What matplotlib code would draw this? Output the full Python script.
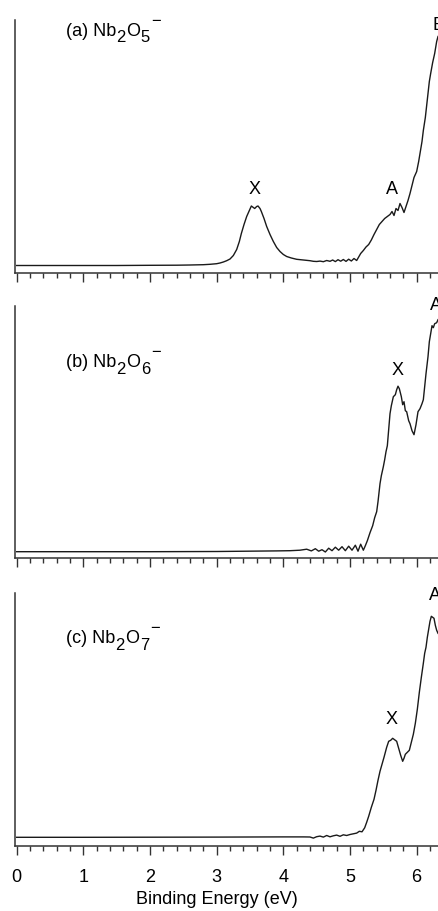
import numpy as np
import matplotlib
matplotlib.use("Agg")
import matplotlib.pyplot as plt
from matplotlib.ticker import MultipleLocator

plt.rcParams['font.family'] = ['Liberation Sans', 'DejaVu Sans']

# (a) Nb2O5-  binding energy (eV) / intensity (arb.)
ea = [0.00, 0.50, 1.00, 1.50, 2.00, 2.40, 2.60, 2.80, 2.90, 3.00,
      3.05, 3.10, 3.15, 3.20, 3.25, 3.30, 3.34, 3.37, 3.41, 3.45,
      3.49, 3.52, 3.55, 3.57, 3.60, 3.62, 3.65, 3.67, 3.71, 3.75,
      3.80, 3.85, 3.90, 3.95, 4.00, 4.05, 4.12, 4.20, 4.30, 4.40,
      4.45, 4.50, 4.55, 4.60, 4.65, 4.70, 4.74, 4.78, 4.82, 4.86,
      4.90, 4.94, 4.98, 5.02, 5.06, 5.10, 5.13, 5.16, 5.20, 5.24,
      5.28, 5.32, 5.36, 5.40, 5.44, 5.48, 5.52, 5.56, 5.60, 5.63,
      5.66, 5.69, 5.72, 5.75, 5.78, 5.81, 5.84, 5.87, 5.90, 5.93,
      5.96, 6.00, 6.03, 6.06, 6.08, 6.10, 6.13, 6.15, 6.17, 6.19,
      6.21, 6.24, 6.27, 6.30, 6.32]
ia = [0, 0, 0, 0, 0.2, 0.3, 0.5, 0.8, 1.2, 1.8,
      2.5, 3.5, 4.8, 6.5, 10, 16, 24, 32, 41, 49,
      55, 59.5, 58, 57, 59, 59.5, 57, 54, 47, 39,
      31, 24, 18, 14, 11, 9, 7.5, 6.2, 5.5, 4.8,
      4.2, 4.0, 4.4, 3.8, 5.0, 4.2, 5.5, 3.9, 5.8, 4.3,
      6.0, 4.1, 6.3, 4.5, 7.0, 5.0, 8.5, 12, 15, 18.5,
      21, 25.5, 31, 36, 41, 44, 47, 49, 51, 54,
      50, 57, 55, 62, 58, 53, 59, 65, 72, 80,
      88, 94, 104, 116, 124, 135, 148, 160, 172, 184,
      192, 203, 212, 224, 229]

# (b) Nb2O6-
eb = [0.00, 1.00, 2.00, 3.00, 3.30, 3.60, 3.90, 4.10, 4.25, 4.35,
      4.42, 4.48, 4.53, 4.58, 4.63, 4.68, 4.73, 4.78, 4.83, 4.88,
      4.93, 4.98, 5.03, 5.08, 5.12, 5.16, 5.20, 5.23, 5.26, 5.30,
      5.34, 5.37, 5.40, 5.42, 5.45, 5.47, 5.50, 5.52, 5.54, 5.56,
      5.58, 5.60, 5.62, 5.65, 5.68, 5.70, 5.72, 5.74, 5.77, 5.79,
      5.81, 5.83, 5.85, 5.88, 5.90, 5.93, 5.96, 5.99, 6.02, 6.05,
      6.08, 6.10, 6.12, 6.14, 6.17, 6.19, 6.21, 6.23, 6.25, 6.27,
      6.30, 6.32]
ib = [0, 0, 0, 0.2, 0.4, 0.6, 0.8, 1.0, 1.5, 2.5,
      0.8, 3.0, 0.5, 2.0, -0.3, 3.5, 1.0, 4.5, 1.5, 5.0,
      1.0, 5.5, 1.5, 6.5, 0.5, 7.5, 1.5, 6.0, 11, 19,
      26, 34, 40, 50, 68, 76, 85, 92, 100, 106,
      122, 138, 146, 155, 157, 162, 165.5, 163, 155, 147,
      150, 141, 140, 131, 128, 121, 117, 127, 140, 143,
      148, 152, 165, 178, 195, 210, 218, 226, 224, 228,
      229, 232]

# (c) Nb2O7-
ec = [0.00, 1.00, 2.00, 3.00, 3.50, 4.00, 4.30, 4.40, 4.45, 4.50,
      4.55, 4.60, 4.65, 4.70, 4.75, 4.80, 4.85, 4.90, 4.95, 5.00,
      5.05, 5.10, 5.14, 5.18, 5.22, 5.25, 5.28, 5.32, 5.36, 5.39,
      5.42, 5.45, 5.48, 5.51, 5.55, 5.58, 5.61, 5.64, 5.67, 5.70,
      5.73, 5.76, 5.79, 5.81, 5.83, 5.86, 5.89, 5.92, 5.95, 5.98,
      6.01, 6.04, 6.07, 6.10, 6.12, 6.14, 6.16, 6.18, 6.20, 6.22,
      6.24, 6.26, 6.28, 6.30, 6.32]
ic = [0, 0, 0.1, 0.2, 0.3, 0.4, 0.4, 0.3, -0.8, 0.6,
      1.2, 0.2, 1.8, 0.5, 1.5, 2.2, 1.0, 2.5, 1.8, 2.8,
      3.5, 4.2, 6.0, 5.5, 9.5, 15, 21, 30, 38, 47,
      57, 66, 73, 80, 90, 96, 97, 99, 97.5, 96,
      89, 82, 76, 79, 83, 85, 87, 95, 103, 114,
      128, 145, 160, 174, 184, 190, 200, 208, 216, 221,
      220, 219, 212, 207, 204]

panel_tags = ["(a)", "(b)", "(c)"]
oxygen = ["5", "6", "7"]
peak_labels = [
    [("X", 3.57, 72, 'center'), ("A", 5.63, 72, 'center'), ("B", 6.24, 236, 'left')],
    [("X", 5.72, 177, 'center'), ("A", 6.20, 242, 'left')],
    [("X", 5.63, 113, 'center'), ("A", 6.18, 237, 'left')],
]

W, H = 438, 911
fig = plt.figure(figsize=(W / 100, H / 100), dpi=100)

# axes boxes in pixels: (bottom, top)
boxes = [(273.3, 20.0), (558.3, 306.0), (845.7, 592.7)]
ylims = [(-7.8, 245.5), (-6.6, 245.7), (-8.4, 244.6)]
name_y = [0.937, 0.757, 0.80]
left = 14.7
fs = 13
fs_sub = 12


def formula(ax, tag, n, ypos):
    # Nb_2 O_n ^- built piece by piece so the subscripts stay large
    t = ax.text(0.121, ypos, tag + " Nb", transform=ax.transAxes,
                fontsize=fs, va='baseline', ha='left')
    t = ax.annotate("2", xy=(1, 0), xycoords=t, xytext=(0.3, -3.9),
                    textcoords='offset points', fontsize=fs_sub, va='bottom')
    t = ax.annotate("O", xy=(1, 0), xycoords=t, xytext=(0.3, 3.9),
                    textcoords='offset points', fontsize=fs, va='bottom')
    t = ax.annotate(n, xy=(1, 0), xycoords=t, xytext=(0.3, -3.9),
                    textcoords='offset points', fontsize=fs_sub, va='bottom')
    ax.annotate("\u2212", xy=(1, 0), xycoords=t, xytext=(0.6, 14.0),
                textcoords='offset points', fontsize=fs_sub, va='baseline')


data = [(ea, ia), (eb, ib), (ec, ic)]
for k in range(3):
    bot, top = boxes[k]
    ax = fig.add_axes([left / W, 1 - bot / H, (W - left) / W, (bot - top) / H])
    x, y = data[k]
    ax.plot(x, y, color='#1a1a1a', lw=1.0)
    ax.set_xlim(-0.03, 6.32)
    ax.set_ylim(*ylims[k])
    for s in ['top', 'right']:
        ax.spines[s].set_visible(False)
    for s in ['left', 'bottom']:
        ax.spines[s].set_linewidth(1.1)
        ax.spines[s].set_color('#333333')
    ax.set_yticks([])
    ax.xaxis.set_major_locator(MultipleLocator(1))
    ax.xaxis.set_minor_locator(MultipleLocator(0.2))
    ax.tick_params(axis='x', which='major', direction='out', length=6.5, width=1.0,
                   color='#333333', labelsize=fs, pad=10)
    ax.tick_params(axis='x', which='minor', direction='out', length=3.6, width=1.0,
                   color='#333333')
    if k < 2:
        ax.tick_params(axis='x', which='both', labelbottom=False)
    else:
        ax.set_xlabel("Binding Energy (eV)", fontsize=fs)
        ax.xaxis.set_label_coords(0.478, -0.179)
    formula(ax, panel_tags[k], oxygen[k], name_y[k])
    for lab, xe, ye, ha in peak_labels[k]:
        ax.text(xe, ye, lab, fontsize=fs, va='baseline', ha=ha)

fig.savefig("out.png", dpi=100)
